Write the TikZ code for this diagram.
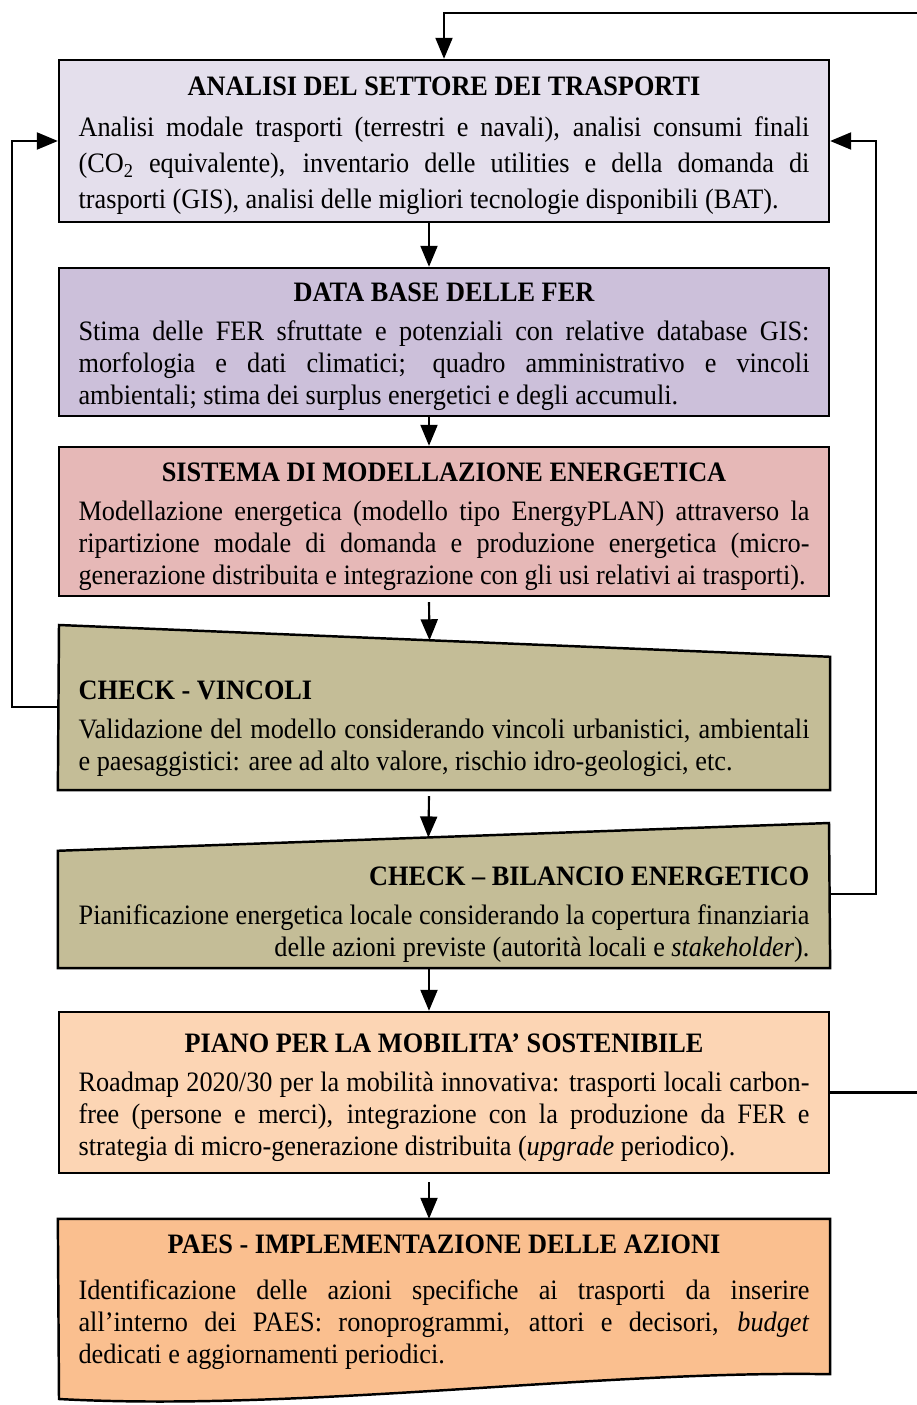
\documentclass[tikz,border=0pt]{standalone}
\usepackage{fontspec}
\setmainfont[FakeStretch=0.935]{Liberation Serif}
\usetikzlibrary{arrows.meta,calc,backgrounds}

\definecolor{trasp}{HTML}{E4DFEC}
\definecolor{ferdb}{HTML}{CCC0DA}
\definecolor{model}{HTML}{E6B8B7}
\definecolor{check}{HTML}{C4BD97}
\definecolor{piano}{HTML}{FCD5B4}
\definecolor{paesc}{HTML}{FABF8F}

\tikzset{
  box/.style={draw, line width=1.4pt, minimum width=15.4cm, text width=14.62cm,
    inner xsep=0pt, inner ysep=0pt, align=justify, font=\fontsize{16}{18.2}\selectfont,
    execute at begin node={\rule{0pt}{16pt}}},
  shapeline/.style={draw, line width=1.4pt},
  arr/.style={line width=1.2pt, -{Triangle[length=0.42cm,width=0.34cm]}},
  wire/.style={line width=1.2pt}
}

\begin{document}
\begin{tikzpicture}[x=0.02cm, y=-0.02cm]
	\useasboundingbox (0,0) rectangle (916,1405);

	% blocchi rettangolari
	\node[box, fill=trasp, minimum height=3.24cm, font=\fontsize{16}{20.4}\selectfont] (anal) at (444,141) {{\centering\bfseries ANALISI DEL SETTORE DEI TRASPORTI\par}\vspace{3pt}
		Analisi modale trasporti (terrestri e navali), analisi consumi finali\linebreak
		(CO\textsubscript{2} equivalente), inventario delle utilities e della domanda di\linebreak
		trasporti (GIS), analisi delle migliori tecnologie disponibili (BAT).};
	\node[box, fill=ferdb, minimum height=2.96cm] (fer) at (444,342) {{\centering\bfseries DATA BASE DELLE FER\par}\vspace{4pt}
		Stima delle FER sfruttate e potenziali con relative database GIS:\linebreak
		morfologia e dati climatici; quadro amministrativo e vincoli\linebreak
		ambientali; stima dei surplus energetici e degli accumuli.};
	\node[box, fill=model, minimum height=2.98cm] (mod) at (444,521.5) {{\centering\bfseries SISTEMA DI MODELLAZIONE ENERGETICA\par}\vspace{4pt}
		Modellazione energetica (modello tipo EnergyPLAN) attraverso la\linebreak
		ripartizione modale di domanda e produzione energetica (micro-\linebreak
		generazione distribuita e integrazione con gli usi relativi ai trasporti).};

	% blocchi di verifica
	\node[box, draw=none, minimum height=2.62cm] (vinc) at (444,723.5) {{\bfseries CHECK - VINCOLI\par}\vspace{4pt}
		Validazione del modello considerando vincoli urbanistici, ambientali\linebreak
		e paesaggistici: aree ad alto valore, rischio idro-geologici, etc.};
	\node[box, draw=none, align=flush right, minimum height=2.3cm] (bil) at (444,909.5) {{\bfseries CHECK – BILANCIO ENERGETICO}\\[4pt]
		Pianificazione energetica locale considerando la copertura finanziaria\\
		delle azioni previste (autorità locali e \textit{stakeholder}).};
	\coordinate (vinc-top) at (59,625);
	\coordinate (bil-top) at (829,823);

	\node[box, fill=piano, minimum height=3.22cm] (pian) at (444,1092.5) {{\centering\bfseries PIANO PER LA MOBILITA’ SOSTENIBILE\par}\vspace{4pt}
		Roadmap 2020/30 per la mobilità innovativa: trasporti locali carbon-\linebreak
		free (persone e merci), integrazione con la produzione da FER e\linebreak
		strategia di micro-generazione distribuita (\textit{upgrade} periodico).};
	\node[box, draw=none, minimum height=3.06cm, execute at begin node={\rule{0pt}{17.4pt}}] (paes) at (444,1296.5) {{\centering\bfseries PAES - IMPLEMENTAZIONE DELLE AZIONI\par}\vspace{8pt}
		Identificazione delle azioni specifiche ai trasporti da inserire\linebreak
		all’interno dei PAES: ronoprogrammi, attori e decisori, \textit{budget}\linebreak
		dedicati e aggiornamenti periodici.};
	\coordinate (paes-sw) at (59,1399);

	\begin{scope}[on background layer]
		\path[shapeline, fill=check] (vinc.south west) -- (vinc-top) -- (vinc.north east) -- (vinc.south east) -- cycle;
		\path[shapeline, fill=check] (bil.south west) -- (bil.north west) -- (bil-top) -- (bil.south east) -- cycle;
		\path[shapeline, fill=paesc] (paes.north west) -- (paes.north east) -- (paes.south east)
			.. controls (600,1370) and (300,1412) .. (paes-sw) -- cycle;
	\end{scope}

	% frecce
	\coordinate (ax) at (429,0);
	\draw[arr] (anal.south -| ax) -- (fer.north -| ax);
	\draw[arr] (fer.south -| ax) -- (mod.north -| ax);
	\draw[arr] ([yshift=-0.1cm]mod.south -| ax) -- ($(vinc-top)!0.4805!(vinc.north east)$);
	\draw[arr] ([yshift=-0.12cm]vinc.south -| ax) -- ($(bil.north west)!0.4805!(bil-top)$);
	\draw[arr] (bil.south -| ax) -- (pian.north -| ax);
	\draw[arr] ([yshift=-0.16cm]pian.south -| ax) -- (paes.north -| ax);

	% retroazioni
	\coordinate (vinc-w) at (59,707);
	\coordinate (bil-e) at (829,894);
	\draw[arr] (vinc-w) -- ++(-47,0) |- (anal.west);
	\draw[arr] (bil-e) -- ++(47,0) |- (anal.east);
	\draw[wire] (pian.east) -- ++(95,0);
	\draw[arr] (924,13) -| (anal.north);
\end{tikzpicture}
\end{document}
